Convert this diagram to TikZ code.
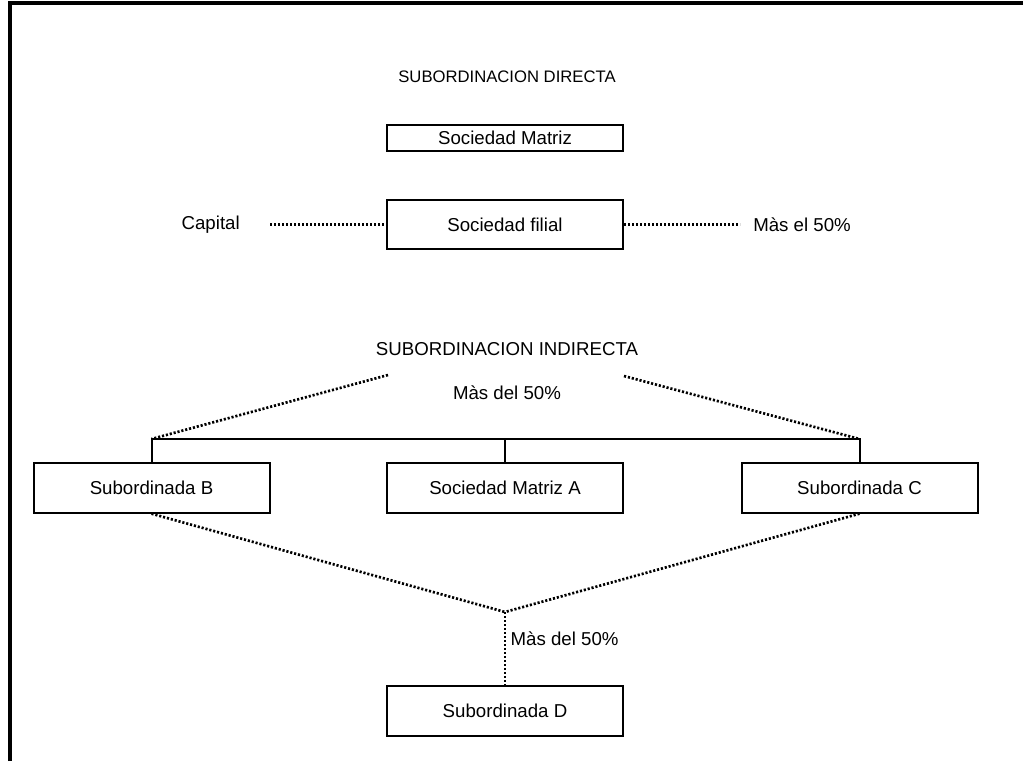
\documentclass[tikz,border=0pt]{standalone}
\usepackage{fontspec}
\setmainfont{Liberation Sans}
\usetikzlibrary{positioning}
\tikzstyle{entity}=[draw,line width=1.5pt,inner sep=0,minimum width=177pt,%
  font=\fontsize{14}{16}\selectfont]
\tikzstyle{caption}=[inner sep=0,font=\fontsize{14}{16}\selectfont]
\tikzstyle{link}=[line width=2pt,dash pattern=on 1.6pt off 1.4pt]
\tikzstyle{bar}=[line width=1.5pt]

\begin{document}
\begin{tikzpicture}[x=0.75pt,y=-0.75pt,
    slim/.style={entity,minimum height=19.5pt},
    tall/.style={entity,minimum height=37pt}
    ]

    \useasboundingbox (0,0) rectangle (1023,761);
    \draw [line width=3pt] (10,761) -- (10,3) -- (1023,3);

    % direct subordination
    \node [caption,font=\fontsize{12.5}{15}\selectfont] (direct) at (507,77)
      {SUBORDINACION DIRECTA};
    \node [slim] (matriz) at (505,138) {Sociedad Matriz};
    \node [tall] (filial) at (505,224.5) {Sociedad filial};
    \node [caption,left=109.5pt of filial] (capital) {Capital};
    \node [caption,right=96.75pt of filial] (masel) {Màs el 50\%};

    \draw [link,shorten <=22.5pt] (capital) -- (filial);
    \draw [link,shorten >=9.75pt] (filial) -- (masel);

    % indirect subordination
    \node [caption] (indirect) at (507,349) {SUBORDINACION INDIRECTA};
    \node [caption] (masdel) at (507,393) {Màs del 50\%};

    \node [tall] (subB) at (151.5,488) {Subordinada B};
    \node [tall] (matrizA) at (505,488) {Sociedad Matriz A};
    \node [tall] (subC) at (859.5,488) {Subordinada C};
    \node [tall] (subD) at (505,711) {Subordinada D};

    \coordinate (topL) at (388,375);
    \coordinate (topR) at (624,376);
    \coordinate (barM) at (505,439);
    \coordinate (barL) at (subB.north |- barM);
    \coordinate (barR) at (subC.north |- barM);
    \coordinate (joint) at (505,612);

    \draw [bar] (subB.north) -- (barL) -- (barR) -- (subC.north);
    \draw [bar] (barM) -- (matrizA.north);
    \draw [link] (topL) -- (barL);
    \draw [link] (topR) -- (barR);

    \draw [link] (subB.south) -- (joint);
    \draw [link] (subC.south) -- (joint);
    \draw [link] (joint) -- (subD.north);
    \node [caption,right=4pt of joint,yshift=-20pt] (masdel2) {Màs del 50\%};
  \end{tikzpicture}
\end{document}
